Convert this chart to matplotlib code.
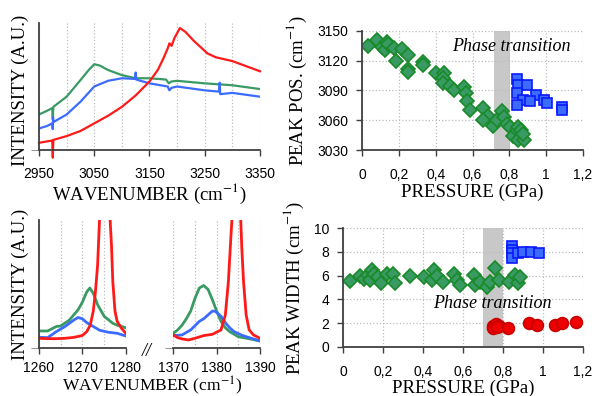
import numpy as np
import matplotlib.pyplot as plt

# ------------------------------
# Data
# ------------------------------
# top-left: CH stretching region (intensity normalised 0..1)
ch_red_x = [2950, 2960, 2974, 2975, 2976, 3000, 3025, 3050, 3075, 3100, 3125, 3150, 3165,
            3175, 3183, 3186, 3190, 3195, 3205, 3215, 3230, 3245, 3255, 3270, 3300, 3325, 3350]
ch_red_y = [0.057, 0.065, 0.075, -0.06, 0.08, 0.11, 0.15, 0.21, 0.27, 0.34, 0.43, 0.54, 0.63,
            0.72, 0.80, 0.84, 0.82, 0.88, 0.96, 0.93, 0.86, 0.80, 0.76, 0.73, 0.70, 0.66, 0.62]
ch_green_x = [2950, 2965, 2974, 2975, 2976, 3000, 3025, 3040, 3050, 3060, 3075, 3100, 3125,
              3150, 3180, 3185, 3190, 3200, 3250, 3300, 3350]
ch_green_y = [0.28, 0.31, 0.33, 0.24, 0.34, 0.42, 0.55, 0.63, 0.675, 0.665, 0.63, 0.59, 0.565,
              0.565, 0.555, 0.525, 0.54, 0.545, 0.525, 0.51, 0.48]
ch_blue_x = [2950, 2965, 2974, 2975, 2975.5, 2976, 3000, 3025, 3050, 3075, 3100, 3124, 3125,
             3126, 3150, 3183, 3186, 3190, 3200, 3250, 3276, 3277, 3278, 3300, 3350]
ch_blue_y = [0.17, 0.19, 0.21, 0.165, 0.26, 0.22, 0.28, 0.38, 0.50, 0.545, 0.565, 0.56, 0.61,
             0.555, 0.525, 0.50, 0.47, 0.49, 0.50, 0.47, 0.46, 0.53, 0.44, 0.45, 0.42]

# bottom-left: low wavenumber bands, first window
lw1_red_x = [1260, 1262, 1264, 1266, 1268, 1270, 1271, 1271.8, 1272.5, 1273, 1273.5, 1274,
             1275, 1276.3, 1276.7, 1277, 1277.5, 1278, 1279, 1280]
lw1_red_y = [0.078, 0.075, 0.075, 0.078, 0.085, 0.10, 0.13, 0.18, 0.29, 0.44, 0.65, 1.05,
             1.8, 1.05, 0.80, 0.52, 0.29, 0.21, 0.156, 0.117]
lw1_green_x = [1260, 1262, 1264, 1265, 1267, 1269, 1270, 1271, 1271.7, 1272.5, 1273.5, 1275,
               1277, 1278, 1280]
lw1_green_y = [0.135, 0.135, 0.17, 0.174, 0.22, 0.30, 0.36, 0.44, 0.47, 0.43, 0.34, 0.25,
               0.195, 0.18, 0.16]
lw1_blue_x = [1260, 1262, 1264, 1266, 1268, 1269, 1270, 1271, 1272, 1274, 1276, 1278, 1280]
lw1_blue_y = [0.086, 0.083, 0.13, 0.17, 0.22, 0.24, 0.23, 0.20, 0.18, 0.14, 0.125, 0.117, 0.096]

# bottom-left: second window
lw2_red_x = [1370, 1371, 1372, 1373.5, 1375, 1377, 1379, 1381, 1382, 1382.7, 1383.3, 1383.6,
             1384.5, 1385.5, 1385.8, 1386.2, 1386.8, 1387.5, 1388.5, 1390]
lw2_red_y = [0.104, 0.083, 0.073, 0.065, 0.078, 0.099, 0.109, 0.143, 0.26, 0.52, 0.88, 1.05,
             1.8, 1.05, 0.78, 0.52, 0.26, 0.143, 0.104, 0.078]
lw2_green_x = [1370, 1371, 1372, 1373, 1374, 1375, 1376, 1377, 1378, 1379, 1380, 1381, 1382,
               1383, 1385, 1387, 1390]
lw2_green_y = [0.117, 0.143, 0.18, 0.23, 0.29, 0.39, 0.47, 0.49, 0.46, 0.38, 0.29, 0.21, 0.16,
               0.13, 0.09, 0.078, 0.057]
lw2_blue_x = [1370, 1372, 1374, 1376, 1377, 1378, 1379, 1379.5, 1380, 1381, 1382, 1383, 1384,
              1386, 1388, 1390]
lw2_blue_y = [0.099, 0.104, 0.143, 0.21, 0.23, 0.26, 0.29, 0.29, 0.28, 0.25, 0.20, 0.16, 0.13,
              0.099, 0.078, 0.057]

# top-right: peak position vs pressure
pos_green_p = [0.03, 0.08, 0.105, 0.123, 0.136, 0.142, 0.174, 0.181, 0.218, 0.25, 0.25, 0.25,
               0.328, 0.33, 0.40, 0.445, 0.44, 0.437, 0.477, 0.499, 0.555, 0.563, 0.568, 0.586,
               0.657, 0.686, 0.655, 0.71, 0.731, 0.759, 0.771, 0.79, 0.804, 0.822, 0.84, 0.849,
               0.862, 0.849, 0.88, 0.873]
pos_green_v = [3135, 3141, 3134, 3131, 3139, 3137, 3133, 3120, 3132, 3126, 3112, 3109,
               3119, 3116, 3108, 3108, 3102, 3097, 3094, 3090, 3093, 3087, 3079, 3070,
               3072, 3064, 3060, 3054, 3060, 3069, 3063, 3056, 3053, 3044, 3050, 3053,
               3050, 3040, 3040, 3046]
pos_blue_p = [0.844, 0.849, 0.894, 0.844, 0.945, 0.877, 0.913, 0.989, 1.007, 0.844, 1.085, 1.085]
pos_blue_v = [3101, 3095, 3095, 3087, 3085, 3080, 3079, 3080, 3077, 3075, 3073, 3070]

# bottom-right: peak width vs pressure
wid_green_p = [0.033, 0.084, 0.104, 0.125, 0.142, 0.134, 0.154, 0.175, 0.187, 0.221, 0.251,
               0.259, 0.334, 0.404, 0.443, 0.455, 0.468, 0.501, 0.555, 0.568, 0.585, 0.655,
               0.66, 0.685, 0.722, 0.735, 0.76, 0.782, 0.832, 0.861, 0.878, 0.886]
wid_green_v = [5.55, 5.97, 5.75, 6.06, 6.48, 5.63, 6.14, 5.86, 5.35, 6.14, 6.14,
               5.35, 5.97, 5.92, 5.63, 6.48, 5.97, 5.49, 6.14, 5.63, 5.21, 6.06,
               5.21, 5.49, 5.01, 5.49, 6.62, 5.63, 5.49, 6.06, 5.35, 5.92]
wid_blue_p = [0.845, 0.845, 0.845, 0.845, 0.877, 0.902, 0.941, 0.982]
wid_blue_v = [8.5, 8.2, 7.9, 7.5, 7.89, 8.02, 8.02, 7.94]
wid_red_p = [0.752, 0.765, 0.782, 0.752, 0.768, 0.827, 0.932, 0.969, 1.061, 1.095, 1.166]
wid_red_v = [1.75, 1.89, 1.75, 1.55, 1.66, 1.6, 1.97, 1.83, 1.83, 1.97, 2.11]

pressure_ticklabels = ["0", "0,2", "0,4", "0,6", "0,8", "1", "1,2"]

RED = "#ff1a1a"
GREEN = "#3a9a64"
BLUE = "#3c6cff"
SPINE = "#404040"
GRID = "#bdbdbd"

SANS = "Liberation Sans"
SERIF = "Liberation Serif"
plt.rcParams["font.family"] = SANS
plt.rcParams["font.size"] = 10
plt.rcParams["mathtext.fontset"] = "stix"

LABEL_KW = dict(family=SERIF, fontsize=13.5)


def style_axes(ax, left=True):
    for s in ["top", "right"]:
        ax.spines[s].set_visible(False)
    ax.spines["left"].set_visible(left)
    for s in ["left", "bottom"]:
        ax.spines[s].set_color(SPINE)
        ax.spines[s].set_linewidth(1.3)
    ax.tick_params(axis="both", which="major", direction="out", length=4,
                   width=1, color=SPINE, labelsize=10)
    ax.tick_params(axis="x", which="major", pad=9)
    ax.tick_params(axis="y", which="major", pad=6)
    ax.tick_params(which="minor", length=0)
    ax.set_axisbelow(True)


def spectrum_axes(ax, left=True):
    style_axes(ax, left)
    ax.set_ylim(0, 1)
    ax.set_yticks([0])
    ax.set_yticklabels([])
    ax.tick_params(axis="y", length=6, color="#9a9a9a", width=0.8)
    ax.grid(True, axis="x", which="both", color=GRID, linestyle=":", linewidth=0.9)


fig = plt.figure(figsize=(5.95, 3.96), dpi=100)

# ------------------------------
# Top-left spectra
# ------------------------------
ax1 = fig.add_axes([0.0655, 0.621, 0.3715, 0.321])
spectrum_axes(ax1)
ax1.tick_params(axis="x", which="major", pad=8)
ax1.plot(ch_green_x, ch_green_y, color=GREEN, lw=1.6)
ax1.plot(ch_blue_x, ch_blue_y, color=BLUE, lw=1.6)
ax1.plot(ch_red_x, ch_red_y, color=RED, lw=1.6, clip_on=False)
ax1.set_xlim(2950, 3350)
ax1.set_xticks([2950, 3050, 3150, 3250, 3350])
ax1.set_xticks(np.arange(3000, 3351, 100), minor=True)
ax1.set_xlabel(r"WAVENUMBER (cm$^{-1}$)", labelpad=0.5, **LABEL_KW)
ax1.set_ylabel("INTENSITY (A.U.)", **LABEL_KW)
ax1.yaxis.set_label_coords(-0.045, 0.47)

# ------------------------------
# Bottom-left spectra (broken axis)
# ------------------------------
ax3a = fig.add_axes([0.0655, 0.1205, 0.146, 0.3237])
ax3b = fig.add_axes([0.2913, 0.1205, 0.1457, 0.3237])
spectrum_axes(ax3a)
spectrum_axes(ax3b, left=False)
for a in (ax3a, ax3b):
    a.tick_params(axis="x", which="major", pad=5)
ax3a.plot(lw1_green_x, lw1_green_y, color=GREEN, lw=2)
ax3a.plot(lw1_blue_x, lw1_blue_y, color=BLUE, lw=2)
ax3a.plot(lw1_red_x, lw1_red_y, color=RED, lw=2)
ax3b.plot(lw2_green_x, lw2_green_y, color=GREEN, lw=2)
ax3b.plot(lw2_blue_x, lw2_blue_y, color=BLUE, lw=2)
ax3b.plot(lw2_red_x, lw2_red_y, color=RED, lw=2)
ax3a.set_xlim(1260, 1280)
ax3a.set_xticks([1260, 1270, 1280])
ax3a.set_xticks([1265, 1275], minor=True)
ax3b.set_xlim(1370, 1390)
ax3b.set_xticks([1370, 1380, 1390])
ax3b.set_xticks([1375, 1385], minor=True)
ax3a.set_ylabel("INTENSITY (A.U.)", **LABEL_KW)
ax3a.yaxis.set_label_coords(-0.115, 0.5)
fig.text(0.2466, 0.112, "//", ha="center", va="center", family=SERIF,
         style="italic", fontsize=13)
fig.text(0.255, 0.011, r"WAVENUMBER (cm$^{-1}$)", ha="center", va="baseline",
         family=SERIF, fontsize=12.5)

# ------------------------------
# Top-right: peak position
# ------------------------------
ax2 = fig.add_axes([0.609, 0.621, 0.3704, 0.3013])
style_axes(ax2)
ax2.grid(True, color=GRID, linestyle=":", linewidth=0.9)
ax2.axvspan(0.715, 0.805, color="#c8c8c8", lw=0, zorder=0.5)
ax2.plot(pos_green_p, pos_green_v, "D", ms=6.8, mfc=GREEN, mec="#188a28", mew=1.2)
ax2.plot(pos_blue_p, pos_blue_v, "s", ms=7.5, mfc=BLUE, mec="#0a1aff", mew=1.2)
ax2.set_xlim(0, 1.2)
ax2.set_ylim(3030, 3150)
ax2.set_yticks(np.arange(3030, 3151, 30))
ax2.set_xticks(np.arange(0, 1.21, 0.2))
ax2.set_xticklabels(pressure_ticklabels)
ax2.text(0.49, 3134.5, "Phase transition", family=SERIF, style="italic",
         fontsize=13, va="center")
ax2.set_xlabel("PRESSURE (GPa)", labelpad=1, **LABEL_KW)
ax2.set_ylabel(r"PEAK POS. (cm$^{-1}$)", labelpad=6, **LABEL_KW)

# ------------------------------
# Bottom-right: peak width
# ------------------------------
ax4 = fig.add_axes([0.577, 0.1245, 0.4024, 0.299])
style_axes(ax4)
ax4.grid(True, color=GRID, linestyle=":", linewidth=0.9)
ax4.axvspan(0.70, 0.80, color="#c8c8c8", lw=0, zorder=0.5)
ax4.plot(wid_green_p, wid_green_v, "D", ms=6.8, mfc=GREEN, mec="#188a28", mew=1.2)
ax4.plot(wid_blue_p, wid_blue_v, "s", ms=7.5, mfc=BLUE, mec="#0a1aff", mew=1.2)
ax4.plot(wid_red_p, wid_red_v, "o", ms=8.5, mfc="#ee0000", mec="#c80000", mew=1.2)
ax4.set_xlim(0, 1.2)
ax4.set_ylim(0, 10)
ax4.set_yticks(np.arange(0, 11, 2))
ax4.set_xticks(np.arange(0, 1.21, 0.2))
ax4.set_xticklabels(pressure_ticklabels)
ax4.text(0.451, 3.66, "Phase transition", family=SERIF, style="italic",
         fontsize=13, va="center")
ax4.set_xlabel("PRESSURE (GPa)", labelpad=1, **LABEL_KW)
ax4.set_ylabel(r"PEAK WIDTH (cm$^{-1}$)", labelpad=6, **LABEL_KW)

plt.savefig("out.png", dpi=100)
